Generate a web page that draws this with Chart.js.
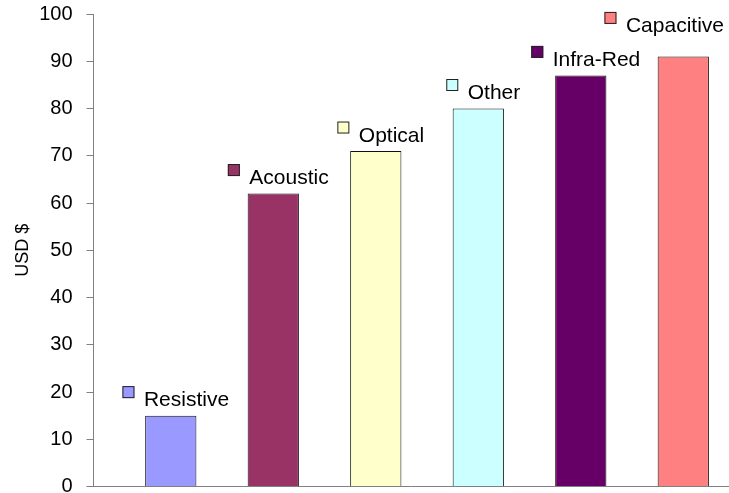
<!DOCTYPE html>
<html>
<head>
<meta charset="utf-8">
<script src="https://cdn.jsdelivr.net/npm/chart.js@4"></script>
<style>
  html, body { margin: 0; padding: 0; background: #fff; }
  #wrap { width: 729px; height: 493px; position: relative; }
</style>
</head>
<body>
<div id="wrap"><canvas id="c" width="729" height="493"></canvas></div>
<script>
const categories = ["Resistive", "Acoustic", "Optical", "Other", "Infra-Red", "Capacitive"];
const values = [15, 62, 71, 80, 87, 91];
const colors = ["#9999FF", "#993366", "#FFFFCC", "#CCFFFF", "#660066", "#FF8080"];
const yTicks = [0, 10, 20, 30, 40, 50, 60, 70, 80, 90, 100];
const yTitle = "USD $";

const FONT = "'Liberation Sans', Arial, sans-serif";

const labelPlugin = {
  id: 'barLabels',
  afterDatasetsDraw(chart) {
    const ctx = chart.ctx;
    const meta = chart.getDatasetMeta(0);
    const fs = 21;
    const sq = 12, gap = 9.5;
    const capH = 0.716 * fs;
    ctx.save();
    ctx.font = fs + "px " + FONT;
    let prev = null;
    meta.data.forEach((bar, i) => {
      const text = categories[i];
      const tw = ctx.measureText(text).width;
      const gw = sq + gap + tw;
      let left = bar.x + 5 - gw / 2;
      if (left + gw > 724) left = 724 - gw;
      let yc = bar.y - 17;
      if (prev && left < prev.right && Math.abs(yc - prev.yc) < 34) {
        yc = prev.yc - 34;
      }
      const sy = yc - 6.5 - sq / 2;
      ctx.fillStyle = colors[i];
      ctx.fillRect(left, sy, sq, sq);
      ctx.strokeStyle = "#222";
      ctx.lineWidth = 1;
      ctx.strokeRect(left + 0.5, sy + 0.5, sq - 1, sq - 1);
      ctx.fillStyle = "#000";
      ctx.textBaseline = "alphabetic";
      ctx.textAlign = "left";
      ctx.fillText(text, left + sq + gap, yc + capH / 2);
      prev = { right: left + gw, yc: yc };
    });
    ctx.restore();
  }
};

new Chart(document.getElementById('c'), {
  type: 'bar',
  data: {
    datasets: [{
      data: values.map((v, i) => ({ x: i, y: v })),
      backgroundColor: colors,
      borderColor: "#111",
      borderWidth: 1,
      barPercentage: 0.5,
      categoryPercentage: 1.0
    }]
  },
  options: {
    responsive: false,
    animation: false,
    devicePixelRatio: 1,
    layout: { padding: { top: 14, left: 0, right: 0, bottom: 6.5 } },
    plugins: { legend: { display: false }, tooltip: { enabled: false } },
    scales: {
      x: {
        type: 'linear',
        offset: false,
        min: -0.754,
        max: 5.446,
        z: 1,
        afterBuildTicks: (s) => { s.ticks = categories.map((_, i) => ({ value: i })); },
        afterFit: (s) => { s.height = 0; },
        ticks: { display: false },
        grid: { display: false },
        border: { display: true, color: "#808080", width: 1 }
      },
      y: {
        min: 0,
        max: 100,
        afterBuildTicks: (s) => { s.ticks = yTicks.map(v => ({ value: v })); },
        afterFit: (s) => { s.width = 93.5; s.paddingTop = 0; s.paddingBottom = 0; },
        ticks: {
          color: "#000",
          padding: 14,
          font: { family: FONT, size: 20 }
        },
        grid: {
          drawOnChartArea: false,
          drawTicks: true,
          tickLength: 7,
          color: "#808080"
        },
        border: { display: true, color: "#808080", width: 1 },
        title: {
          display: true,
          text: yTitle,
          color: "#000",
          font: { family: FONT, size: 18 },
          padding: { top: 12, bottom: 0 }
        }
      }
    }
  },
  plugins: [labelPlugin]
});
</script>
</body>
</html>
